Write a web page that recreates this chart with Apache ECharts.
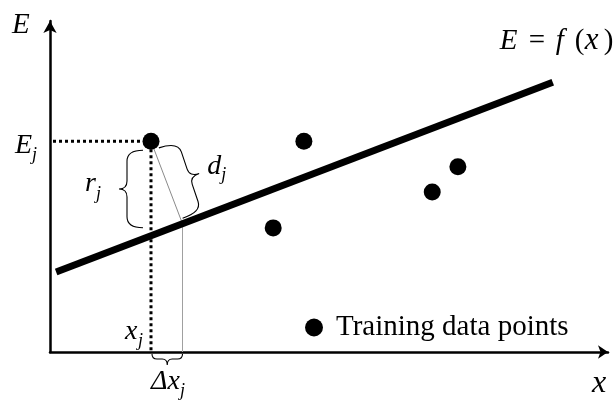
<!DOCTYPE html>
<html>
<head>
<meta charset="utf-8">
<script src="https://cdn.jsdelivr.net/npm/echarts@6/dist/echarts.min.js"></script>
<style>
  html, body { margin: 0; padding: 0; background: #fff; }
  #chart { width: 616px; height: 402px; }
</style>
</head>
<body>
<div id="chart"></div>
<script>
// Training samples (x, E)
const pointX = [1.81, 4.55, 4.00, 6.85, 7.31];
const pointY = [3.82, 3.82, 2.25, 2.90, 3.36];

// Fitted model E = f(x), drawn as a straight segment between two x values
const fitX = [0.11, 9.01];
const fitY = [1.45, 4.89];

// Sample whose residual r_j and distance d_j are annotated
const focusIndex = 0;

// Axis extents
const rangeX = [0, 10];
const rangeY = [0, 6];

const SERIF = 'Liberation Serif';

// text placed by its left edge and alphabetic baseline
function label(text, left, baseline, size, italic) {
  return {
    type: 'text',
    x: left,
    y: baseline - 0.335 * size,
    style: {
      text: text,
      fontFamily: SERIF,
      fontSize: size,
      fontStyle: italic ? 'italic' : 'normal',
      fill: '#000',
      align: 'left',
      verticalAlign: 'middle'
    }
  };
}

// curly brace from p1 to p2, bulging to the given side
function brace(p1, p2, arm, depth, cEnd, cTip, side) {
  const dx = p2[0] - p1[0], dy = p2[1] - p1[1];
  const L = Math.sqrt(dx * dx + dy * dy);
  const ux = dx / L, uy = dy / L;
  const nx = -uy * side, ny = ux * side;
  const H = L / 2;
  const pt = (s, v) => (p1[0] + ux * s + nx * v).toFixed(2) + ',' + (p1[1] + uy * s + ny * v).toFixed(2);
  const d = 'M' + pt(0, 0) +
    'Q' + pt(0, arm) + ' ' + pt(cEnd, arm) +
    'L' + pt(H - cTip, arm) +
    'Q' + pt(H, arm) + ' ' + pt(H, depth) +
    'Q' + pt(H, arm) + ' ' + pt(H + cTip, arm) +
    'L' + pt(L - cEnd, arm) +
    'Q' + pt(L, arm) + ' ' + pt(L, 0);
  const tip = [p1[0] + ux * H + nx * depth, p1[1] + uy * H + ny * depth];
  return {
    el: {
      type: 'path',
      shape: { pathData: d },
      style: { stroke: '#000', fill: null, lineWidth: 1.1 }
    },
    tip: tip
  };
}

function renderAnnotations(params, api) {
  const P = api.coord([pointX[focusIndex], pointY[focusIndex]]);
  const A = api.coord([fitX[0], fitY[0]]);
  const B = api.coord([fitX[1], fitY[1]]);
  const O = api.coord([rangeX[0], rangeY[0]]);
  const T = api.coord([rangeX[0], rangeY[1]]);
  const R = api.coord([rangeX[1], rangeY[0]]);

  // foot of the perpendicular from P onto the fitted line
  const lx = B[0] - A[0], ly = B[1] - A[1];
  const t = ((P[0] - A[0]) * lx + (P[1] - A[1]) * ly) / (lx * lx + ly * ly);
  const F = [A[0] + t * lx, A[1] + t * ly];
  // where the vertical through P meets the fitted line
  const V = [P[0], A[1] + (P[0] - A[0]) / lx * ly];

  const children = [];

  // projections of the sample onto both axes
  children.push({
    type: 'line',
    shape: { x1: O[0] + 3, y1: P[1], x2: P[0] - 7, y2: P[1] },
    style: { stroke: '#000', lineWidth: 3, lineDash: [3, 3] }
  });
  children.push({
    type: 'line',
    shape: { x1: P[0], y1: P[1] + 8, x2: P[0], y2: O[1] },
    style: { stroke: '#000', lineWidth: 3, lineDash: [3, 3] }
  });

  // perpendicular distance and its projection onto x
  children.push({
    type: 'line',
    shape: { x1: P[0], y1: P[1], x2: F[0], y2: F[1] },
    style: { stroke: '#8a8a8a', lineWidth: 1 }
  });
  children.push({
    type: 'line',
    shape: { x1: F[0], y1: F[1], x2: F[0], y2: O[1] },
    style: { stroke: '#a0a0a0', lineWidth: 1 }
  });

  // brace for the vertical residual r_j
  const br = brace([P[0] - 8, P[1] + 9], [P[0] - 8, V[1] - 8], 16, 24, 11, 8, 1);
  children.push(br.el);
  // brace for the distance d_j
  const ex = (F[0] - P[0]), ey = (F[1] - P[1]);
  const el = Math.sqrt(ex * ex + ey * ey);
  const ux = ex / el, uy = ey / el, nx = uy, ny = -ux;
  const bd = brace(
    [P[0] + ux * 9 + nx * 5, P[1] + uy * 9 + ny * 5],
    [F[0] - ux * 5 + nx * 2, F[1] - uy * 5 + ny * 2],
    20, 30, 11, 8, -1);
  children.push(bd.el);
  // brace for delta x
  const bx = brace([P[0] + 1, O[1] + 2], [F[0], O[1] + 2], 5, 11, 5, 5, 1);
  children.push(bx.el);

  // labels
  children.push(label('E', T[0] - 38, T[1] + 14, 29, true));
  children.push(label('E', O[0] - 35, P[1] + 14, 28, true));
  children.push(label('j', O[0] - 18, P[1] + 20, 18, true));
  children.push(label('r', br.tip[0] - 34, br.tip[1] + 4, 28, true));
  children.push(label('j', br.tip[0] - 23, br.tip[1] + 11, 18, true));
  children.push(label('d', bd.tip[0] + 8, bd.tip[1] + 2, 28, true));
  children.push(label('j', bd.tip[0] + 22, bd.tip[1] + 8, 18, true));
  children.push(label('x', P[0] - 26, O[1] - 11, 28, true));
  children.push(label('j', P[0] - 13, O[1] - 5, 18, true));
  children.push(label('\u0394x', P[0], O[1] + 39, 28, true));
  children.push(label('j', P[0] + 29, O[1] + 45, 18, true));
  children.push(label('x', R[0] - 16, O[1] + 42, 32, true));

  // equation of the model
  children.push(label('E', B[0] - 53, B[1] - 31, 29, true));
  children.push(label('=', B[0] - 24, B[1] - 31, 29, false));
  children.push(label('f', B[0] + 3, B[1] - 31, 29, true));
  children.push(label('(', B[0] + 22, B[1] - 31, 29, false));
  children.push(label('x', B[0] + 32, B[1] - 31, 31, true));
  children.push(label(')', B[0] + 51, B[1] - 31, 29, false));

  return { type: 'group', children: children };
}

const chart = echarts.init(document.getElementById('chart'), null, { renderer: 'canvas' });

chart.setOption({
  backgroundColor: '#fff',
  animation: false,
  grid: { left: 50, right: 8, top: 21, bottom: 50, containLabel: false },
  legend: {
    data: ['Training data points'],
    left: 300,
    top: 308,
    icon: 'circle',
    itemWidth: 18,
    itemHeight: 18,
    selectedMode: false,
    itemStyle: { color: '#000', opacity: 1 },
    textStyle: {
      fontFamily: SERIF,
      fontSize: 29,
      color: '#000',
      padding: [14, 0, 0, 8]
    }
  },
  xAxis: {
    type: 'value',
    min: rangeX[0],
    max: rangeX[1],
    axisLine: {
      onZero: false,
      symbol: ['none', 'arrow'],
      symbolSize: [10, 10],
      lineStyle: { color: '#000', width: 2.5 }
    },
    axisTick: { show: false },
    axisLabel: { show: false },
    splitLine: { show: false }
  },
  yAxis: {
    type: 'value',
    min: rangeY[0],
    max: rangeY[1],
    axisLine: {
      show: true,
      onZero: false,
      symbol: ['none', 'arrow'],
      symbolSize: [10, 12],
      lineStyle: { color: '#000', width: 2.5 }
    },
    axisTick: { show: false },
    axisLabel: { show: false },
    splitLine: { show: false }
  },
  series: [
    {
      type: 'custom',
      name: 'annotations',
      silent: true,
      z: 1,
      data: [[0, 0]],
      renderItem: renderAnnotations
    },
    {
      type: 'line',
      name: 'E = f(x)',
      silent: true,
      z: 2,
      data: fitX.map((x, i) => [x, fitY[i]]),
      showSymbol: false,
      symbol: 'none',
      lineStyle: { color: '#000', width: 7, cap: 'butt' }
    },
    {
      type: 'scatter',
      name: 'Training data points',
      z: 3,
      symbol: 'circle',
      symbolSize: 17,
      itemStyle: { color: '#000', opacity: 1 },
      data: pointX.map((x, i) => [x, pointY[i]])
    }
  ]
});
</script>
</body>
</html>
